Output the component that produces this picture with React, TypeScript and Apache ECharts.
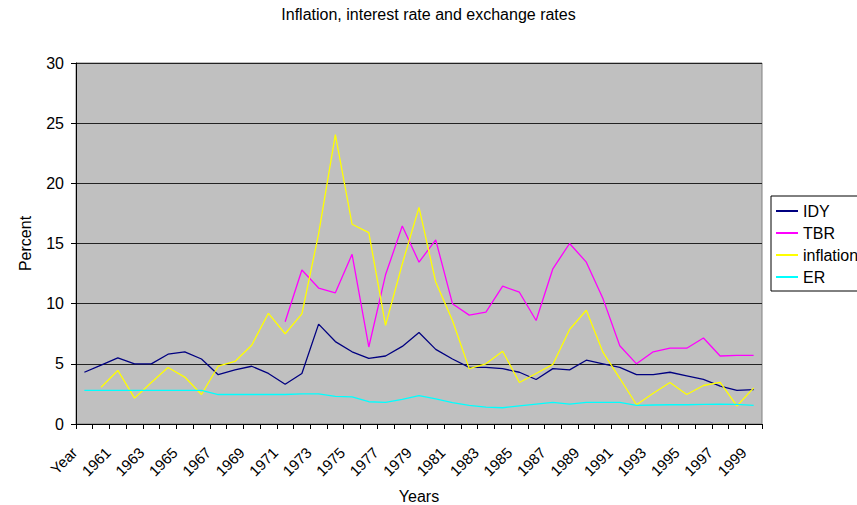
import React, { useEffect, useRef } from "react";
import * as echarts from "echarts";

const categories = [
  "Year", "1960", "1961", "1962", "1963", "1964", "1965", "1966", "1967", "1968", "1969",
  "1970", "1971", "1972", "1973", "1974", "1975", "1976", "1977", "1978", "1979",
  "1980", "1981", "1982", "1983", "1984", "1985", "1986", "1987", "1988", "1989",
  "1990", "1991", "1992", "1993", "1994", "1995", "1996", "1997", "1998", "1999",
];

const idy = [4.3, 4.9, 5.5, 5.0, 5.0, 5.8, 6.0, 5.4, 4.1, 4.5, 4.8, 4.2, 3.3, 4.2, 8.3, 6.85, 6.0, 5.45, 5.65, 6.45, 7.6, 6.2, 5.4, 4.7, 4.7, 4.6, 4.3, 3.7, 4.6, 4.5, 5.3, 5.0, 4.7, 4.1, 4.1, 4.3, 4.0, 3.7, 3.15, 2.8, 2.85];

const tbr = [null, null, null, null, null, null, null, null, null, null, null, null,
  8.5, 12.8, 11.3, 10.9, 14.1, 6.4, 12.4, 16.45, 13.45, 15.3, 10.0, 9.05, 9.3, 11.45, 10.95, 8.6, 12.9, 15.0, 13.45, 10.4, 6.5, 5.0, 6.0, 6.3, 6.3, 7.15, 5.65, 5.7, 5.7];

const inflation = [null, 3.05, 4.45, 2.15, 3.45, 4.7, 3.9, 2.45, 4.8, 5.2, 6.55, 9.2, 7.5, 9.15, 15.8, 24.05, 16.6, 15.9, 8.2, 13.3, 18.0, 11.8, 8.6, 4.6, 5.0, 6.05, 3.45, 4.2, 4.95, 7.85, 9.45, 5.95, 3.8, 1.6, 2.55, 3.45, 2.45, 3.2, 3.45, 1.5, 3.0];

const er = [2.8, 2.8, 2.8, 2.8, 2.8, 2.8, 2.8, 2.8, 2.45, 2.45, 2.45, 2.45, 2.45, 2.5, 2.5, 2.3, 2.25, 1.85, 1.8, 2.05, 2.35, 2.08, 1.77, 1.55, 1.4, 1.35, 1.5, 1.65, 1.8, 1.65, 1.8, 1.8, 1.8, 1.55, 1.58, 1.6, 1.6, 1.63, 1.65, 1.63, 1.55];

const FONT = "Liberation Sans, Arial, sans-serif";

export default function App() {
  const ref = useRef<HTMLDivElement>(null);

  useEffect(() => {
    document.body.style.margin = "0";
    if (!ref.current) return;
    const chart = echarts.init(ref.current, undefined, { renderer: "svg" });
    const mk = (name: string, data: (number | null)[], color: string) => ({
      name,
      type: "line",
      data,
      symbol: "none",
      showSymbol: false,
      connectNulls: false,
      lineStyle: { color, width: 1.3 },
      itemStyle: { color },
    });
    chart.setOption({
      animation: false,
      backgroundColor: "#ffffff",
      textStyle: { fontFamily: FONT },
      title: {
        text: "Inflation, interest rate and exchange rates",
        left: "center",
        top: 1,
        textStyle: { fontSize: 16, fontWeight: "normal", color: "#000", fontFamily: FONT },
      },
      grid: {
        left: 76,
        right: 95,
        top: 63,
        height: 361,
        containLabel: false,
        outerBoundsMode: "none",
        show: true,
        backgroundColor: "#C0C0C0",
        borderColor: "#808080",
        borderWidth: 1,
      },
      legend: {
        orient: "vertical",
        left: 771,
        top: 196,
        padding: [7, 6, 6, 5],
        itemGap: 6,
        itemWidth: 22,
        itemHeight: 2,
        icon: "rect",
        borderColor: "#000",
        borderWidth: 1,
        textStyle: { fontSize: 16, color: "#000", fontFamily: FONT },
        data: ["IDY", "TBR", "inflation", "ER"],
      },
      xAxis: {
        type: "category",
        data: categories,
        boundaryGap: true,
        name: "Years",
        nameLocation: "middle",
        nameGap: 64,
        nameTextStyle: { fontSize: 16, color: "#000", fontFamily: FONT },
        axisLine: { show: true, lineStyle: { color: "#000", width: 1 } },
        axisTick: { show: true, interval: 0, length: 5, lineStyle: { color: "#000" } },
        axisLabel: {
          interval: 1,
          rotate: 45,
          fontSize: 15,
          color: "#000",
          margin: 16,
          padding: [0, 14, 0, 0],
          fontFamily: FONT,
        },
        splitLine: { show: false },
      },
      yAxis: {
        type: "value",
        min: 0,
        max: 30,
        interval: 5,
        name: "Percent",
        nameLocation: "middle",
        nameRotate: 90,
        nameGap: 43,
        nameTextStyle: { fontSize: 16, color: "#000", fontFamily: FONT },
        axisLine: { show: true, lineStyle: { color: "#000", width: 1 } },
        axisTick: { show: true, length: 5, lineStyle: { color: "#000" } },
        axisLabel: { fontSize: 16, color: "#000", margin: 12, fontFamily: FONT },
        splitLine: { show: true, lineStyle: { color: "#222", width: 1 } },
      },
      series: [
        mk("IDY", idy, "#000080"),
        mk("TBR", tbr, "#FF00FF"),
        mk("inflation", inflation, "#FFFF00"),
        mk("ER", er, "#00FFFF"),
      ],
    });
    return () => chart.dispose();
  }, []);

  return (
    <div
      ref={ref}
      style={{ position: "absolute", left: 0, top: 0, width: 857, height: 505 }}
    />
  );
}
